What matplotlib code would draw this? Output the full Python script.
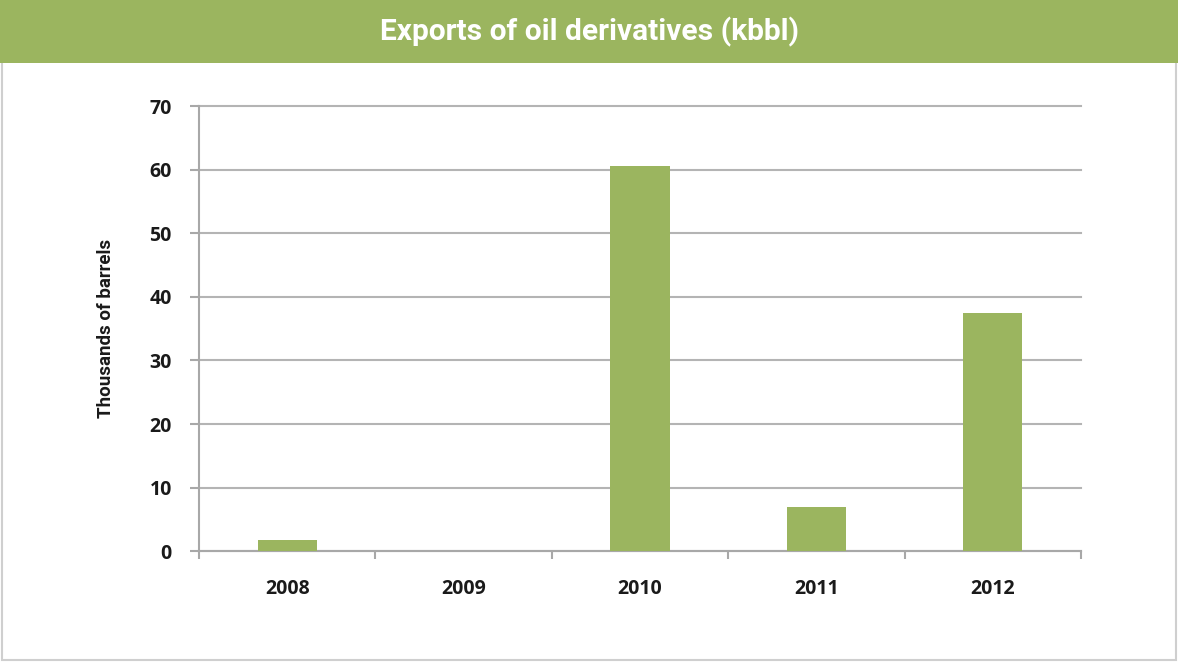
import matplotlib
matplotlib.use("Agg")
import matplotlib.pyplot as plt
from matplotlib.patches import Rectangle

years = ["2008", "2009", "2010", "2011", "2012"]
exports = [1.7, 0.0, 60.5, 6.9, 37.5]
y_ticks = [0, 10, 20, 30, 40, 50, 60, 70]

green = "#9bb55f"
grid_gray = "#b4b4b4"
text_dark = "#1a1a1a"
narrow = ["Roboto", "DejaVu Sans"]
tick_font = ["Open Sans", "DejaVu Sans"]

fig = plt.figure(figsize=(11.78, 6.62), dpi=100)
fig.patch.set_facecolor("white")

# frame, then header band on top of it
fig.patches.append(Rectangle((0.0015, 0.003), 0.997, 0.994, transform=fig.transFigure,
	facecolor="none", edgecolor="#cfcfcf", linewidth=1.5, zorder=0))
fig.patches.append(Rectangle((0, 1 - 63 / 662), 1, 63 / 662, transform=fig.transFigure,
	facecolor=green, edgecolor="none", zorder=1))
fig.text(0.5, 1 - 32 / 662, "Exports of oil derivatives (kbbl)", color="white",
	fontsize=21.5, fontweight="bold", family=narrow, ha="center", va="center")

ax = fig.add_axes([199 / 1178, 1 - 551.3 / 662, (1081 - 199) / 1178, (551.3 - 106) / 662])
ax.bar(range(len(years)), exports, width=0.335, color=green, zorder=3)

ax.set_xlim(-0.5, len(years) - 0.5)
ax.set_ylim(0, 70)
ax.set_yticks(y_ticks)
ax.set_xticks(range(len(years)))
ax.set_xticklabels(years)
ax.set_xticks([i - 0.5 for i in range(len(years) + 1)], minor=True)

ax.yaxis.grid(True, color=grid_gray, linewidth=1.5, zorder=0)
for gl in ax.get_ygridlines():
	gl.set_clip_on(False)
ax.set_axisbelow(True)
for s in ["top", "right"]:
	ax.spines[s].set_visible(False)
for s in ["left", "bottom"]:
	ax.spines[s].set_color("#a8a8a8")
	ax.spines[s].set_linewidth(1.5)

ax.tick_params(axis="y", length=6.5, width=1.5, color="#a8a8a8", pad=13,
	labelsize=14, labelcolor=text_dark)
ax.tick_params(axis="x", which="major", length=0, pad=20, labelsize=14, labelcolor=text_dark)
ax.tick_params(axis="x", which="minor", length=6, width=1.5, color="#a8a8a8")
for lbl in ax.get_xticklabels() + ax.get_yticklabels():
	lbl.set_fontweight("bold")
	lbl.set_family(tick_font)

ax.set_ylabel("Thousands of barrels", fontsize=13.5, fontweight="bold", family=narrow,
	color=text_dark, labelpad=25)

fig.savefig("out.png", dpi=100)
